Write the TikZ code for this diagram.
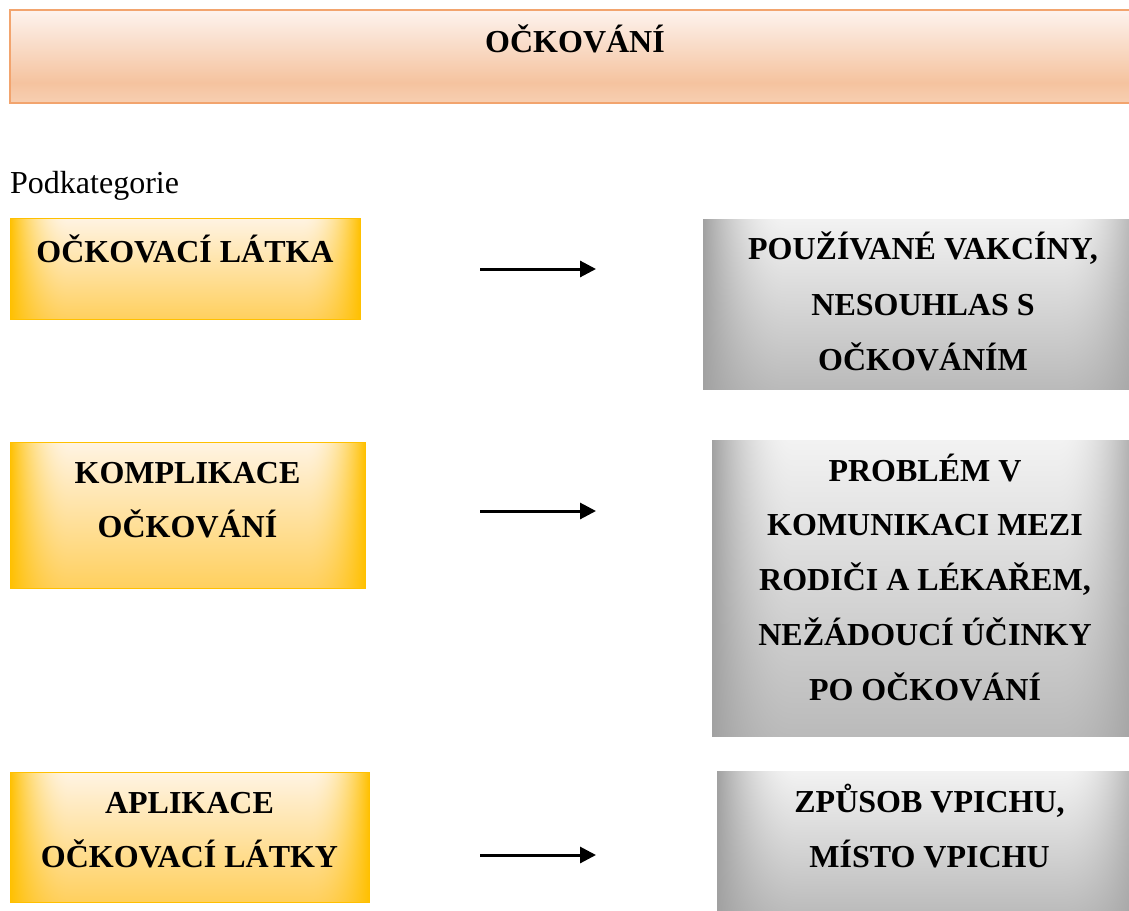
\documentclass[tikz,border=0pt]{standalone}
\usepackage{fontspec}
\setmainfont{Liberation Serif}
\usetikzlibrary{arrows.meta}
\definecolor{ttop}{HTML}{FDF3EE}
\definecolor{tmid}{HTML}{F5C39F}
\definecolor{tbot}{HTML}{F7CFB2}
\definecolor{tborder}{HTML}{F2A46E}
\definecolor{ylwout}{HTML}{FFC000}
\pgfdeclareverticalshading{titleshade}{100bp}{color(0bp)=(tbot); color(25bp)=(tbot); color(36bp)=(tmid); color(75bp)=(ttop); color(100bp)=(ttop)}
% yellow: base colour goes from bottom (FFD060) to top (FFF3E3), sides fade softly to FFC000
\pgfdeclarefunctionalshading{ylwshade}{\pgfpoint{0bp}{0bp}}{\pgfpoint{100bp}{100bp}}{}{
  25 sub 50 div
  exch 25 sub 50 div
  dup 1 exch sub
  2 copy gt {exch} if pop
  0.17 div 1 exch sub
  dup 0 lt {pop 0} if
  dup mul
  1 index 0.0 mul 1.0 add
  dup 1.0 exch sub 2 index mul add
  2 index 0.14 mul 0.815 add
  dup 0.753 exch sub 3 index mul add
  3 index 0.52 mul 0.37 add
  dup 0.0 exch sub 4 index mul add
  5 -2 roll pop pop
}
% grey: base from BABABA (bottom) to F2F2F2 (top), sides fade softly to A0A0A0
\pgfdeclarefunctionalshading{gryshade}{\pgfpoint{0bp}{0bp}}{\pgfpoint{100bp}{100bp}}{}{
  25 sub 50 div
  exch 25 sub 50 div
  dup 1 exch sub
  2 copy gt {exch} if pop
  0.19 div 1 exch sub
  dup 0 lt {pop 0} if
  dup mul
  1 index 0.22 mul 0.73 add
  dup 0.63 exch sub 2 index mul add
  2 index 0.22 mul 0.73 add
  dup 0.63 exch sub 3 index mul add
  3 index 0.22 mul 0.73 add
  dup 0.63 exch sub 4 index mul add
  5 -2 roll pop pop
}
\tikzset{
  lbl/.style={font=\fontsize{32}{54}\selectfont\bfseries, anchor=base, inner sep=0pt},
  plain/.style={font=\fontsize{32}{54}\selectfont, anchor=base west, inner sep=0pt},
  titlebox/.style={rectangle, inner sep=0pt, draw=tborder, line width=1.5pt, shading=titleshade},
  ybox/.style={rectangle, inner sep=0pt, draw=ylwout, line width=1pt, shading=ylwshade},
  gbox/.style={rectangle, inner sep=0pt, shading=gryshade},
  arr/.style={line width=3pt, -{Triangle[length=16pt,width=16pt]}},
}
\begin{document}
\begin{tikzpicture}[x=1pt, y=-1pt]
\useasboundingbox (0,0) rectangle (1129,910);
% title
\node[titlebox, minimum width=1130pt, minimum height=93pt] (title) at (575,56.5) {};
\node[lbl] (titletext) at (575,52) {OČKOVÁNÍ};
\node[plain] (podk) at (10,193) {Podkategorie};
% left boxes
\node[ybox, minimum width=350pt, minimum height=101pt] (y1) at (185,268.5) {};
\node[ybox, minimum width=355pt, minimum height=146pt] (y2) at (187.5,515) {};
\node[ybox, minimum width=359pt, minimum height=130pt] (y3) at (189.5,837) {};
% right boxes
\node[gbox, minimum width=440pt, minimum height=170pt] (g1) at (923,304) {};
\node[gbox, minimum width=426pt, minimum height=296pt] (g2) at (925,588) {};
\node[gbox, minimum width=425pt, minimum height=144pt] (g3) at (929.5,843) {};
% texts
\node[lbl] (y1a) at (185,262) {OČKOVACÍ LÁTKA};
\node[lbl] (y2a) at (187.5,483) {KOMPLIKACE};
\node[lbl] (y2b) at (187.5,537) {OČKOVÁNÍ};
\node[lbl] (y3a) at (189.5,813) {APLIKACE};
\node[lbl] (y3b) at (189.5,867) {OČKOVACÍ LÁTKY};
\node[lbl] (g1a) at (923,259) {POUŽÍVANÉ VAKCÍNY,};
\node[lbl] (g1b) at (923,315) {NESOUHLAS S};
\node[lbl] (g1c) at (923,370) {OČKOVÁNÍM};
\node[lbl] (g2a) at (925,481) {PROBLÉM V};
\node[lbl] (g2b) at (925,535) {KOMUNIKACI MEZI};
\node[lbl] (g2c) at (925,590) {RODIČI A LÉKAŘEM,};
\node[lbl] (g2d) at (925,645) {NEŽÁDOUCÍ ÚČINKY};
\node[lbl] (g2e) at (925,700) {PO OČKOVÁNÍ};
\node[lbl] (g3a) at (929.5,812) {ZPŮSOB VPICHU,};
\node[lbl] (g3b) at (929.5,867) {MÍSTO VPICHU};
% arrows
\coordinate (a1s) at (480,269); \coordinate (a1e) at (596,269);
\coordinate (a2s) at (480,511); \coordinate (a2e) at (596,511);
\coordinate (a3s) at (480,855); \coordinate (a3e) at (596,855);
\draw[arr] (a1s) -- (a1e);
\draw[arr] (a2s) -- (a2e);
\draw[arr] (a3s) -- (a3e);
\end{tikzpicture}
\end{document}
